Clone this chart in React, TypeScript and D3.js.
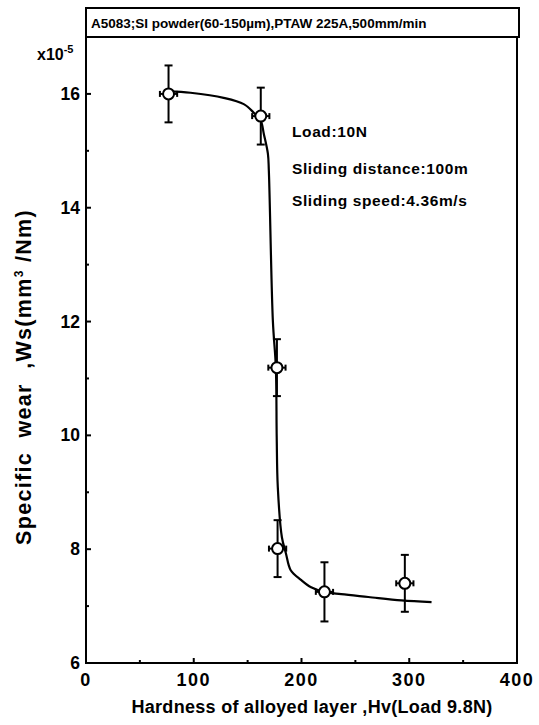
import React from "react";
import * as d3 from "d3";

const title = "A5083;SI powder(60-150\u00b5m),PTAW 225A,500mm/min";
const xLabel = "Hardness of alloyed layer ,Hv(Load 9.8N)";
const notes = ["Load:10N", "Sliding distance:100m", "Sliding speed:4.36m/s"];

const pointX = [76.6, 162.2, 177.2, 177.8, 221.3, 295.9];
const pointY = [16.0, 15.61, 11.19, 8.01, 7.25, 7.4];
const errY = [0.5, 0.5, 0.5, 0.5, 0.52, 0.5];
const errX = [8, 8, 8, 8, 8, 8];

const curveX = [76.5, 97, 127.7, 146.4, 155.7, 162.2, 165, 168.8, 169.7, 173.4, 176.2, 177, 178, 181.8, 185.5, 190, 199.5, 208.9, 221, 236.8, 262, 292.8, 320.7];
const curveY = [16.05, 16.02, 15.93, 15.82, 15.67, 15.53, 15.3, 14.95, 14.65, 12.02, 11.19, 9.96, 9.09, 8.21, 7.93, 7.63, 7.46, 7.33, 7.25, 7.21, 7.16, 7.1, 7.07];

const xTicks = [0, 100, 200, 300, 400];
const xMinor = [50, 150, 250, 350];
const yTicks = [6, 8, 10, 12, 14, 16];
const yMinor = [7, 9, 11, 13, 15, 17];

const W = 539, H = 725;
const L = 86, R = 517, T = 37, B = 663;
const font = "'Liberation Sans', Arial, sans-serif";

export default function App() {
  const x = d3.scaleLinear().domain([0, 400]).range([L, R]);
  const y = d3.scaleLinear().domain([6, 17]).range([B, T]);
  const line = d3
    .line<number>()
    .x((_, i) => x(curveX[i]))
    .y((d) => y(d))
    .curve(d3.curveCatmullRom.alpha(0.5));
  const path = line(curveY) || "";

  return (
    <div style={{ position: "absolute", left: 0, top: 0 }}>
      <svg width={W} height={H} style={{ display: "block", background: "#fff" }} fontFamily={font} fontWeight="bold">
        {/* title box */}
        <rect x={L} y={8} width={R - L + 2} height={T - 8} fill="none" stroke="#000" strokeWidth={2} />
        <text x={L + 5} y={28} fontSize={13.5}>{title}</text>
        {/* frame */}
        <rect x={L} y={T} width={R - L} height={B - T} fill="none" stroke="#000" strokeWidth={2} />
        {/* x ticks */}
        {xTicks.map((t) => (
          <g key={"xt" + t}>
            <line x1={x(t)} x2={x(t)} y1={B} y2={B - 5} stroke="#000" strokeWidth={2} />
            <text x={x(t)} y={686} fontSize={18} textAnchor="middle" letterSpacing={1.5}>{t}</text>
          </g>
        ))}
        {xMinor.map((t) => (
          <line key={"xm" + t} x1={x(t)} x2={x(t)} y1={B} y2={B - 3} stroke="#000" strokeWidth={2} />
        ))}
        {yTicks.map((t) => (
          <g key={"yt" + t}>
            <line x1={L} x2={L + 5} y1={y(t)} y2={y(t)} stroke="#000" strokeWidth={2} />
            <text x={80} y={y(t) + 6} fontSize={17.5} textAnchor="end">{t}</text>
          </g>
        ))}
        {yMinor.map((t) => (
          <line key={"ym" + t} x1={L} x2={L + 3} y1={y(t)} y2={y(t)} stroke="#000" strokeWidth={2} />
        ))}
        <text x={37} y={60} fontSize={16}>
          x10<tspan dy={-7} fontSize={11}>-5</tspan>
        </text>
        {/* axis titles */}
        <text x={312} y={713} fontSize={18} textAnchor="middle" letterSpacing={0.3}>{xLabel}</text>
        <text transform={`translate(31,377) rotate(-90)`} fontSize={21.5} textAnchor="middle" letterSpacing={1.3} style={{ whiteSpace: "pre" }}>
          {"Specific  wear  ,Ws(mm"}<tspan dy={-8} fontSize={12}>3</tspan><tspan dy={8}>{" /Nm)"}</tspan>
        </text>
        {/* notes */}
        {notes.map((n, i) => (
          <text key={n} x={292} y={[137, 174, 206][i]} fontSize={15.5} letterSpacing={0.6}>{n}</text>
        ))}
        {/* fitted curve */}
        <path d={path} fill="none" stroke="#000" strokeWidth={2.2} />
        {/* error bars and points */}
        {pointX.map((px, i) => {
          const cx = x(px), cy = y(pointY[i]);
          const y1 = y(pointY[i] + errY[i]), y2 = y(pointY[i] - errY[i]);
          const x1 = x(px - errX[i]), x2 = x(px + errX[i]);
          return (
            <g key={"p" + i} stroke="#000" strokeWidth={2}>
              <line x1={cx} x2={cx} y1={y1} y2={y2} />
              <line x1={cx - 4} x2={cx + 4} y1={y1} y2={y1} />
              <line x1={cx - 4} x2={cx + 4} y1={y2} y2={y2} />
              <line x1={x1} x2={x2} y1={cy} y2={cy} />
              <line x1={x1} x2={x1} y1={cy - 3} y2={cy + 3} />
              <line x1={x2} x2={x2} y1={cy - 3} y2={cy + 3} />
              <circle cx={cx} cy={cy} r={5.5} fill="#fff" strokeWidth={2} />
            </g>
          );
        })}
      </svg>
    </div>
  );
}
